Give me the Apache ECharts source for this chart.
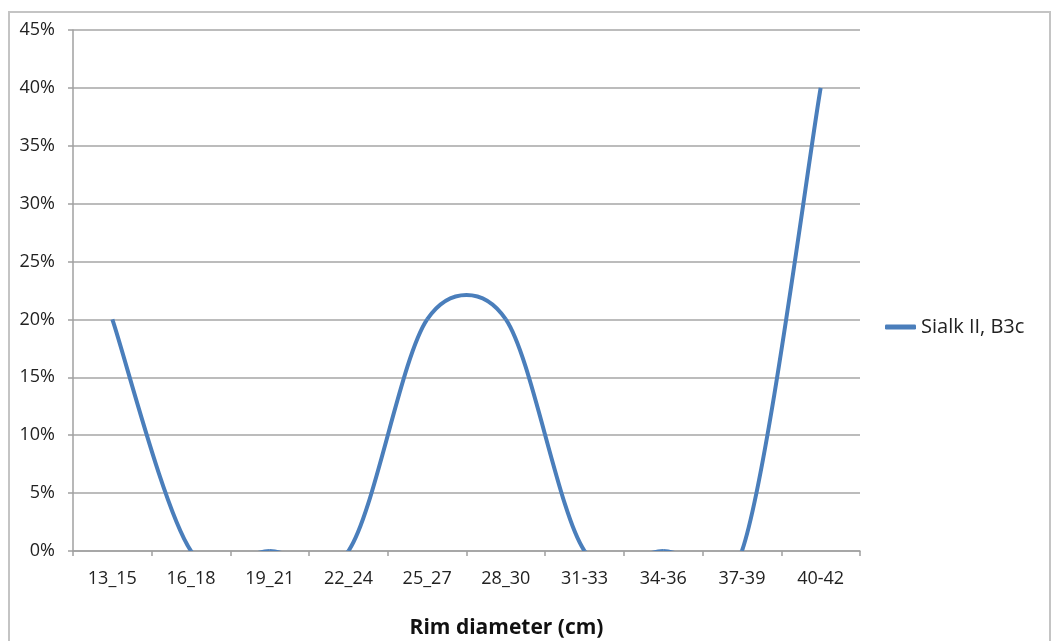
<!DOCTYPE html>
<html>
<head>
<meta charset="utf-8">
<script src="https://cdn.jsdelivr.net/npm/echarts@6/dist/echarts.min.js"></script>
<style>
html,body{margin:0;padding:0;background:#fff;}
#chart{width:1055px;height:641px;}
</style>
</head>
<body>
<div id="chart"></div>
<script>
const categories = ['13_15','16_18','19_21','22_24','25_27','28_30','31-33','34-36','37-39','40-42'];
const seriesName = 'Sialk II, B3c';
const values = [0.20, 0, 0, 0, 0.20, 0.20, 0, 0, 0, 0.40];
const axisTitle = 'Rim diameter (cm)';

const font = "'Open Sans', 'Liberation Sans', sans-serif";
const lineColor = '#4a7ebb';
const N = values.length;

// Excel-style smoothed segment (Catmull-Rom tangents, arm length limited)
function renderItem(params, api) {
  const i = params.dataIndex;
  if (i >= N - 1) return null;
  const pt = j => api.coord([j, values[j]]);
  const p0 = pt(i), p1 = pt(i + 1);
  const pm = i > 0 ? pt(i - 1) : p0;
  const p2 = i + 2 < N ? pt(i + 2) : p1;
  const k = 1 / 6;
  let a = [(p1[0] - pm[0]) * k, (p1[1] - pm[1]) * k];
  let b = [(p2[0] - p0[0]) * k, (p2[1] - p0[1]) * k];
  const lim = Math.hypot(p1[0] - p0[0], p1[1] - p0[1]) / 2;
  const la = Math.hypot(a[0], a[1]), lb = Math.hypot(b[0], b[1]);
  if (la > lim) { a = [a[0] * lim / la, a[1] * lim / la]; }
  if (lb > lim) { b = [b[0] * lim / lb, b[1] * lim / lb]; }
  return {
    type: 'bezierCurve',
    shape: {
      x1: p0[0], y1: p0[1], x2: p1[0], y2: p1[1],
      cpx1: p0[0] + a[0], cpy1: p0[1] + a[1],
      cpx2: p1[0] - b[0], cpy2: p1[1] - b[1]
    },
    style: { stroke: lineColor, lineWidth: 4, fill: null, lineCap: 'butt' }
  };
}

const chart = echarts.init(document.getElementById('chart'));
chart.setOption({
  animation: false,
  backgroundColor: '#fff',
  color: [lineColor],
  textStyle: { fontFamily: font },
  graphic: [{
    type: 'rect', z: 0, silent: true,
    shape: { x: 9, y: 12, width: 1041, height: 660 },
    style: { fill: 'none', stroke: '#c4c4c4', lineWidth: 2 }
  }],
  grid: { left: 73, right: 195, top: 30, bottom: 90, containLabel: false, outerBoundsMode: 'none' },
  legend: {
    left: 885, top: 317, padding: 0,
    itemWidth: 31, itemHeight: 5, icon: 'roundRect',
    textStyle: { fontFamily: font, fontSize: 20, color: '#222' },
    data: [{ name: seriesName, itemStyle: { color: lineColor } }]
  },
  xAxis: {
    type: 'category',
    data: categories,
    boundaryGap: true,
    axisLine: { lineStyle: { color: '#a0a0a0', width: 1.5 } },
    axisTick: { show: true, length: 5, lineStyle: { color: '#a0a0a0', width: 1.5 } },
    axisLabel: { margin: 19, fontSize: 18, color: '#222', fontFamily: font },
    name: axisTitle,
    nameLocation: 'middle',
    nameGap: 67,
    nameTextStyle: { fontSize: 21, fontWeight: 'bold', color: '#111', fontFamily: font, padding: [0, 0, 0, 80] }
  },
  yAxis: {
    type: 'value',
    min: 0, max: 0.45, interval: 0.05,
    axisLine: { show: true, lineStyle: { color: '#a0a0a0', width: 1.5 } },
    axisTick: { show: true, length: 5, lineStyle: { color: '#a0a0a0', width: 1.5 } },
    splitLine: { lineStyle: { color: '#a6a6a6', width: 1.5 } },
    axisLabel: {
      margin: 18, fontSize: 18, color: '#222', fontFamily: font,
      formatter: v => Math.round(v * 100) + '%'
    }
  },
  series: [{
    name: seriesName,
    type: 'custom',
    coordinateSystem: 'cartesian2d',
    clip: true,
    data: values.map((v, i) => [i, v]),
    encode: { x: 0, y: 1 },
    itemStyle: { color: lineColor },
    renderItem: renderItem
  }]
});
</script>
</body>
</html>
